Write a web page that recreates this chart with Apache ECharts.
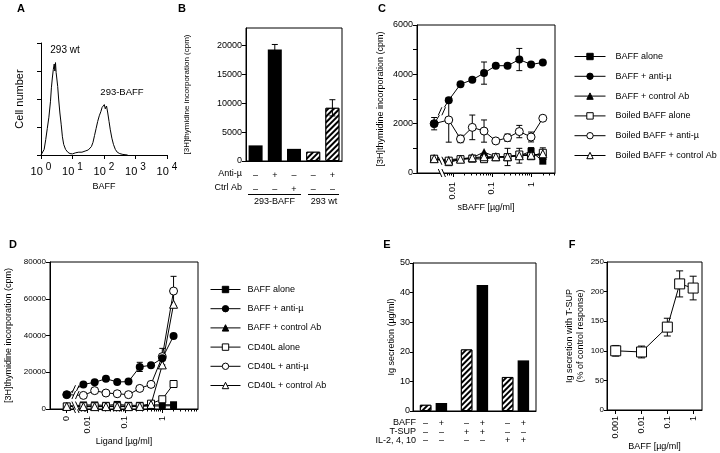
<!DOCTYPE html>
<html><head><meta charset="utf-8">
<script src="https://cdn.jsdelivr.net/npm/echarts@6/dist/echarts.min.js"></script>
<style>html,body{margin:0;padding:0;background:#fff}#c{width:720px;height:453px}</style>
</head><body><div id="c"></div><script>
// ---------------- DATA ----------------
// A: flow histogram (x = log10 BAFF fluorescence, y = cell number in tick units)
const aLogFluor = [0.00,0.05,0.10,0.15,0.20,0.25,0.30,0.33,0.36,0.39,0.42,0.44,0.46,0.48,0.50,0.53,0.56,0.60,0.64,0.68,0.72,0.78,0.85,0.92,1.00,1.10,1.20,1.30,1.40,1.50,1.55,1.60,1.65,1.70,1.75,1.80,1.85,1.90,1.94,1.98,2.01,2.04,2.08,2.12,2.16,2.20,2.25,2.30,2.36,2.42,2.50,2.60,2.75];
const aCount    = [0.00,0.02,0.20,0.55,0.95,1.35,1.90,2.40,2.75,3.05,3.25,3.00,3.30,2.95,2.75,2.45,2.00,1.50,1.10,0.65,0.38,0.20,0.10,0.05,0.04,0.08,0.10,0.10,0.14,0.18,0.25,0.30,0.45,0.70,0.95,1.20,1.40,1.55,1.70,1.75,1.80,1.65,1.75,1.50,1.20,0.90,0.60,0.38,0.20,0.10,0.05,0.02,0.00];

// B
const bConditions = ['293-BAFF alone','293-BAFF + anti-µ','293-BAFF + ctrl Ab','293 wt alone','293 wt + anti-µ'];
const bValues = [2700, 19300, 2100, 1600, 9200];
const bErrors = [0, 850, 0, 0, 1400];
const bAntiMu = ['–','+','–','–','+'];
const bCtrlAb = ['–','–','+','–','–'];
const bCells  = ['293-BAFF','293-BAFF','293-BAFF','293 wt','293 wt'];
const bYTicks = [0,5000,10000,15000,20000];

// C
const cDose = [0, 0.0078, 0.0156, 0.03125, 0.0625, 0.125, 0.25, 0.5, 1, 2];
const cBaffAlone   = [580, 420, 560, 600, 620, 640, 650, 700, 880, 480];
const cBaffAnti    = [2000, 2950, 3600, 3780, 4050, 4350, 4350, 4600, 4400, 4480];
const cBaffCtrl    = [580, 540, 580, 620, 850, 650, 680, 720, 760, 700];
const cBoiledAlone = [580, 500, 560, 580, 560, 640, 640, 750, 680, 820];
const cBoiledAnti  = [2000, 2150, 1380, 1850, 1700, 1300, 1430, 1680, 1460, 2220];
const cBoiledCtrl  = [580, 480, 560, 620, 660, 660, 660, 700, 720, 780];
const cBaffAntiErr   = [250, 0, 0, 0, 450, 0, 0, 450, 0, 0];
const cBoiledAntiErr = [0, 900, 150, 500, 450, 0, 150, 250, 200, 0];
const cBaffAloneErr  = [0, 0, 0, 0, 0, 0, 350, 300, 150, 0];
const cBoiledAloneErr= [0, 0, 0, 0, 0, 0, 0, 0, 0, 200];
const cXLabels = [0.01, 0.1, 1];

// D
const dDose = [0, 0.0078, 0.0156, 0.03125, 0.0625, 0.125, 0.25, 0.5, 1, 2];
const dBaffAlone  = [1500, 2200, 2200, 2000, 2500, 2000, 2000, 2200, 2300, 2300];
const dBaffAnti   = [7800, 13400, 14500, 16500, 14700, 14900, 22900, 23800, 27600, 39700];
const dBaffCtrl   = [1400, 1500, 1500, 1500, 1600, 1500, 1500, 1600, 1700, 1800];
const dCd40Alone  = [1400, 1500, 1500, 1500, 1500, 1500, 1500, 2900, 5300, 13600];
const dCd40Anti   = [7800, 7400, 10000, 8700, 8300, 7800, 11200, 13400, 28500, 64200];
const dCd40Ctrl   = [1400, 1300, 1300, 1300, 1300, 1300, 1400, 2500, 24000, 57000];
const dBaffAntiErr  = [0, 0, 0, 0, 0, 0, 2500, 0, 0, 0];
const dCd40AntiErr  = [0, 0, 0, 0, 0, 0, 0, 0, 4500, 8000];
const dCd40AloneErr = [0, 0, 0, 0, 0, 0, 0, 0, 0, 1800];
const dXLabels = [0, 0.01, 0.1, 1];

// E
const eConditions = ['medium', 'T-SUP', 'IL-2, 4, 10'];
const eBaffNeg = [2.1, 20.8, 11.5];
const eBaffPos = [2.7, 42.6, 17.1];
const eRowBaff = ['–','+','–','+','–','+'];
const eRowTSup = ['–','–','+','+','–','–'];
const eRowIl   = ['–','–','–','–','+','+'];

// F
const fDose = [0.001, 0.01, 0.1, 0.3, 1];
const fIg   = [100, 98, 140, 213, 206];
const fErr  = [9, 10, 15, 22, 20];
const fXLabels = [0.001, 0.01, 0.1, 1];

// ---------------- HELPERS ----------------
const FONT = '"Liberation Sans", Arial, Helvetica, sans-serif';
const C_ZERO = 0.0033, D_ZERO = 0.0028;   // where dose 0 sits on the broken log axes
const C_BREAK = 0.0052, D_BREAK = 0.0048;
const fmtNum = v => String(+(+v).toPrecision(3));
const plain = v => String(v);

function pts(doses, vals, zero) { return doses.map((d, i) => [d === 0 ? zero : d, vals[i]]); }
function errs(doses, vals, e, zero) {
  const out = [];
  doses.forEach((d, i) => { if (e[i] > 0) out.push([d === 0 ? zero : d, vals[i] - e[i], vals[i] + e[i]]); });
  return out;
}
function lineBreakY(vals, zero, x1, brk) {
  const t = (Math.log10(brk) - Math.log10(zero)) / (Math.log10(x1) - Math.log10(zero));
  return vals[0] + (vals[1] - vals[0]) * t;
}
function minorTicks(lo, hi) {
  const v = [];
  for (let e = -3; e <= 1; e++) for (let m = 2; m <= 9; m++) { const x = m * Math.pow(10, e); if (x > lo && x < hi) v.push(x); }
  return v;
}
const axLine = {show: true, onZero: false, lineStyle: {color: '#000', width: 1}};
const tick = (len, extra) => Object.assign({show: true, length: len, lineStyle: {color: '#000', width: 1}}, extra || {});
const lbl = (extra) => Object.assign({color: '#000', fontSize: 9, fontFamily: FONT, margin: 4}, extra || {});
const nameStyle = (fs) => ({color: '#000', fontSize: fs, fontFamily: FONT});
const noSplit = {show: false};

function lineSeries(name, xi, yi, data, symbol, size, filled) {
  return {type: 'line', name, xAxisIndex: xi, yAxisIndex: yi, data, symbol, symbolSize: size,
    showSymbol: true, showAllSymbol: true, z: 3, animation: false, emphasis: {disabled: true},
    lineStyle: {color: '#000', width: 1},
    itemStyle: filled ? {color: '#000', borderColor: '#000', borderWidth: 0}
                      : {color: '#fff', borderColor: '#000', borderWidth: 1}};
}
function errSeries(xi, yi, data, capW, z) {
  return {type: 'custom', xAxisIndex: xi, yAxisIndex: yi, z: z || 2, silent: true, animation: false,
    data, encode: {x: 0, y: [1, 2]},
    renderItem(params, api) {
      const x = api.value(0);
      const lo = api.coord([x, api.value(1)]), hi = api.coord([x, api.value(2)]);
      const c = capW / 2, st = {stroke: '#000', lineWidth: 1};
      return {type: 'group', children: [
        {type: 'line', shape: {x1: hi[0], y1: hi[1], x2: lo[0], y2: lo[1]}, style: st},
        {type: 'line', shape: {x1: hi[0] - c, y1: hi[1], x2: hi[0] + c, y2: hi[1]}, style: st},
        {type: 'line', shape: {x1: lo[0] - c, y1: lo[1], x2: lo[0] + c, y2: lo[1]}, style: st}
      ]};
    }};
}
function breakSeries(xi, yi, data) {
  return {type: 'custom', xAxisIndex: xi, yAxisIndex: yi, z: 6, silent: true, animation: false,
    data, encode: {x: 0, y: 1},
    renderItem(params, api) {
      const p = api.coord([api.value(0), api.value(1)]);
      const dir = api.value(2);           // 1 = "\" on axis, -1 = "/" on lines
      const h = 4, g = 1.8, s = 1.8 * dir;
      const st = {stroke: '#000', lineWidth: 1};
      return {type: 'group', children: [
        {type: 'polygon', shape: {points: [[p[0] - g + s, p[1] + h], [p[0] + g + s, p[1] + h], [p[0] + g - s, p[1] - h], [p[0] - g - s, p[1] - h]]}, style: {fill: '#fff'}},
        {type: 'line', shape: {x1: p[0] - g + s, y1: p[1] + h, x2: p[0] - g - s, y2: p[1] - h}, style: st},
        {type: 'line', shape: {x1: p[0] + g + s, y1: p[1] + h, x2: p[0] + g - s, y2: p[1] - h}, style: st}
      ]};
    }};
}
const hatch = {symbol: 'rect', symbolSize: 1, color: '#000', backgroundColor: '#fff',
  dashArrayX: [1, 0], dashArrayY: [1.1, 2.0], rotation: -Math.PI / 4};
const txt = (text, x, y, font, align) => ({type: 'text', x, y, silent: true,
  style: {text, font, fill: '#000', align: align || 'center', textAlign: align || 'center', verticalAlign: 'middle', textVerticalAlign: 'middle'}});
const hline = (x1, x2, y) => ({type: 'line', silent: true, shape: {x1, y1: y, x2, y2: y}, style: {stroke: '#000', lineWidth: 1}});

// ---------------- OPTION ----------------
const C_MIN = 0.0012, C_MAX = 4.1, D_MIN = 0.001, D_MAX = 9, F_MIN = 0.00046, F_MAX = 2.2;
const boxed = {show: true, borderColor: '#000', borderWidth: 1, backgroundColor: 'transparent'};
const gBase = {containLabel: false, outerBoundsMode: 'none'};
const legendBase = {orient: 'vertical', itemHeight: 8, padding: 0, selectedMode: false,
  lineStyle: {width: 1, color: '#000'}, itemStyle: {borderWidth: 1},
  textStyle: {fontSize: 9, fontFamily: FONT, color: '#000', padding: [0, 0, 0, 5]}};

const option = {
  animation: false,
  backgroundColor: '#fff',
  textStyle: {fontFamily: FONT},
  grid: [
    Object.assign({left: 41, top: 43, width: 126, height: 112}, gBase),
    Object.assign({left: 246, top: 28, width: 96, height: 133}, gBase, boxed),
    Object.assign({left: 417, top: 25, width: 138, height: 148}, gBase, boxed),
    Object.assign({left: 50, top: 262, width: 148, height: 147}, gBase, boxed),
    Object.assign({left: 413, top: 263, width: 123, height: 148}, gBase, boxed),
    Object.assign({left: 607, top: 262, width: 95, height: 148}, gBase, boxed)
  ],
  xAxis: [
    // 0: A
    {gridIndex: 0, type: 'value', min: 0, max: 4, interval: 1, axisLine: axLine, axisTick: tick(4), splitLine: noSplit,
     axisLabel: lbl({margin: 7, formatter: v => '{b|10 }{s|' + v + '}',
       rich: {b: {fontSize: 11, fontFamily: FONT, color: '#000'}, s: {fontSize: 10, fontFamily: FONT, color: '#000', padding: [0, 0, 9, 0]}}}),
     name: 'BAFF', nameLocation: 'middle', nameGap: 27, nameTextStyle: nameStyle(9)},
    // 1: B
    {gridIndex: 1, type: 'category', data: bConditions, axisLine: axLine, axisTick: {show: false}, splitLine: noSplit,
     axisLabel: lbl({margin: 8, lineHeight: 14, interval: 0, formatter: (v, i) => bAntiMu[i] + '\n' + bCtrlAb[i]})},
    // 2: C main
    {gridIndex: 2, type: 'log', logBase: 10, min: C_MIN, max: C_MAX, position: 'bottom', axisLine: axLine, splitLine: noSplit,
     axisTick: tick(4, {customValues: cXLabels}),
     axisLabel: lbl({rotate: 90, margin: 9, customValues: cXLabels, formatter: fmtNum}),
     name: 'sBAFF [µg/ml]', nameLocation: 'middle', nameGap: 27, nameTextStyle: nameStyle(9)},
    // 3: C minor
    {gridIndex: 2, type: 'log', logBase: 10, min: C_MIN, max: C_MAX, position: 'bottom', axisLine: {show: false}, splitLine: noSplit,
     axisTick: tick(2.5, {customValues: minorTicks(0.006, C_MAX)}), axisLabel: {show: false}},
    // 4: D main
    {gridIndex: 3, type: 'log', logBase: 10, min: D_MIN, max: D_MAX, position: 'bottom', axisLine: axLine, splitLine: noSplit,
     axisTick: tick(4, {customValues: dXLabels.map(v => v === 0 ? D_ZERO : v)}),
     axisLabel: lbl({rotate: 90, margin: 7, customValues: dXLabels.map(v => v === 0 ? D_ZERO : v),
       formatter: v => Math.abs(v - D_ZERO) < 1e-6 ? '0' : fmtNum(v)}),
     name: 'Ligand [µg/ml]', nameLocation: 'middle', nameGap: 26, nameTextStyle: nameStyle(9)},
    // 5: D minor
    {gridIndex: 3, type: 'log', logBase: 10, min: D_MIN, max: D_MAX, position: 'bottom', axisLine: {show: false}, splitLine: noSplit,
     axisTick: tick(2.5, {customValues: minorTicks(0.006, D_MAX)}), axisLabel: {show: false}},
    // 6: E
    {gridIndex: 4, type: 'category', data: eConditions, axisLine: axLine, axisTick: {show: false}, splitLine: noSplit,
     axisLabel: lbl({margin: 8, interval: 0,
       formatter: (v, i) => [eRowBaff, eRowTSup, eRowIl].map(r => '{s|' + r[2 * i] + '}{s|' + r[2 * i + 1] + '}').join('\n'),
       rich: {s: {width: 15.8, align: 'center', fontSize: 9, lineHeight: 8.7, fontFamily: FONT, color: '#000'}}})},
    // 7: F
    {gridIndex: 5, type: 'log', logBase: 10, min: F_MIN, max: F_MAX, position: 'bottom', axisLine: axLine, splitLine: noSplit,
     axisTick: tick(4, {customValues: fXLabels}),
     axisLabel: lbl({rotate: 90, margin: 6, customValues: fXLabels, formatter: fmtNum}),
     name: 'BAFF [µg/ml]', nameLocation: 'middle', nameGap: 18, nameTextStyle: nameStyle(9)}
  ],
  yAxis: [
    {gridIndex: 0, type: 'value', min: 0, max: 4, interval: 1, axisLine: axLine, axisTick: tick(4), axisLabel: {show: false}, splitLine: noSplit,
     name: 'Cell number', nameLocation: 'middle', nameGap: 16, nameRotate: 90, nameTextStyle: nameStyle(11)},
    {gridIndex: 1, type: 'value', min: 0, max: 23000, axisLine: axLine, splitLine: noSplit,
     axisTick: tick(4, {customValues: bYTicks}), axisLabel: lbl({customValues: bYTicks, formatter: plain}),
     name: '[3H]thymidine incorporation (cpm)', nameLocation: 'middle', nameGap: 55, nameRotate: 90, nameTextStyle: nameStyle(8)},
    {gridIndex: 2, type: 'value', min: 0, max: 6000, interval: 1000, axisLine: axLine, axisTick: tick(4), splitLine: noSplit,
     axisLabel: lbl({formatter: v => v % 2000 === 0 ? String(v) : ''}),
     name: '[3H]thymidine incorporation (cpm)', nameLocation: 'middle', nameGap: 32, nameRotate: 90, nameTextStyle: nameStyle(9)},
    {gridIndex: 3, type: 'value', min: 0, max: 80000, interval: 20000, axisLine: axLine, axisTick: tick(4), splitLine: noSplit,
     axisLabel: lbl({fontSize: 8, formatter: plain}),
     name: '[3H]thymidine incorporation (cpm)', nameLocation: 'middle', nameGap: 37, nameRotate: 90, nameTextStyle: nameStyle(9)},
    {gridIndex: 4, type: 'value', min: 0, max: 50, interval: 10, axisLine: axLine, axisTick: tick(3), splitLine: noSplit,
     axisLabel: lbl({margin: 3, formatter: plain}),
     name: 'Ig secretion (µg/ml)', nameLocation: 'middle', nameGap: 14, nameRotate: 90, nameTextStyle: nameStyle(9)},
    {gridIndex: 5, type: 'value', min: 0, max: 250, interval: 50, axisLine: axLine, axisTick: tick(3), splitLine: noSplit,
     axisLabel: lbl({margin: 3, fontSize: 8, formatter: plain}),
     name: 'Ig secretion with T-SUP\n(% of control response)', nameLocation: 'middle', nameGap: 20, nameRotate: 90,
     nameTextStyle: Object.assign(nameStyle(9), {lineHeight: 11.5})}
  ],
  legend: [
    Object.assign({}, legendBase, {
      data: ['BAFF alone', 'BAFF + anti-µ', 'BAFF + control Ab', 'Boiled BAFF alone', 'Boiled BAFF + anti-µ', 'Boiled BAFF + control Ab'],
      left: 574, top: 52, itemWidth: 31, itemGap: 10.8}),
    Object.assign({}, legendBase, {
      data: ['BAFF alone', 'BAFF + anti-µ', 'BAFF + control Ab', 'CD40L alone', 'CD40L + anti-µ', 'CD40L + control Ab'],
      left: 210, top: 285, itemWidth: 30, itemGap: 10.2,
      textStyle: {fontSize: 9, fontFamily: FONT, color: '#000', padding: [0, 0, 0, 2]}})
  ],
  series: [],
  graphic: []
};

const S = option.series;
// A
S.push({type: 'line', xAxisIndex: 0, yAxisIndex: 0, data: aLogFluor.map((e, i) => [e, aCount[i]]), symbol: 'none',
  lineStyle: {color: '#000', width: 1}, animation: false, silent: true});
// B
S.push({type: 'bar', name: '293-BAFF', xAxisIndex: 1, yAxisIndex: 1, barWidth: 14, barGap: '-100%',
  data: bValues.map((v, i) => bCells[i] === '293-BAFF' ? v : '-'), itemStyle: {color: '#000'}, silent: true});
S.push({type: 'bar', name: '293 wt', xAxisIndex: 1, yAxisIndex: 1, barWidth: 14, barGap: '-100%',
  data: bValues.map((v, i) => bCells[i] === '293 wt' ? v : '-'),
  itemStyle: {color: '#fff', borderColor: '#000', borderWidth: 1, decal: hatch}, silent: true});
S.push(errSeries(1, 1, bValues.map((v, i) => bErrors[i] > 0 ? [i, v - bErrors[i], v + bErrors[i]] : null).filter(Boolean), 6, 5));
// C
S.push(errSeries(2, 2, [].concat(
  errs(cDose, cBaffAnti, cBaffAntiErr, C_ZERO), errs(cDose, cBoiledAnti, cBoiledAntiErr, C_ZERO),
  errs(cDose, cBaffAlone, cBaffAloneErr, C_ZERO), errs(cDose, cBoiledAlone, cBoiledAloneErr, C_ZERO)), 6, 1));
S.push(lineSeries('BAFF alone', 2, 2, pts(cDose, cBaffAlone, C_ZERO), 'rect', 7, true));
S.push(lineSeries('BAFF + control Ab', 2, 2, pts(cDose, cBaffCtrl, C_ZERO), 'triangle', 8, true));
S.push(lineSeries('Boiled BAFF alone', 2, 2, pts(cDose, cBoiledAlone, C_ZERO), 'rect', 7, false));
S.push(lineSeries('Boiled BAFF + control Ab', 2, 2, pts(cDose, cBoiledCtrl, C_ZERO), 'triangle', 8, false));
S.push(lineSeries('Boiled BAFF + anti-µ', 2, 2, pts(cDose, cBoiledAnti, C_ZERO), 'circle', 8, false));
S.push(lineSeries('BAFF + anti-µ', 2, 2, pts(cDose, cBaffAnti, C_ZERO), 'circle', 8, true));
S.push(breakSeries(2, 2, [[C_BREAK, 0, 1],
  [C_BREAK, lineBreakY(cBaffAnti, C_ZERO, cDose[1], C_BREAK), -1],
  [C_BREAK, lineBreakY(cBaffAlone, C_ZERO, cDose[1], C_BREAK), 1]]));
// D
S.push(errSeries(4, 3, [].concat(
  errs(dDose, dBaffAnti, dBaffAntiErr, D_ZERO), errs(dDose, dCd40Anti, dCd40AntiErr, D_ZERO),
  errs(dDose, dCd40Alone, dCd40AloneErr, D_ZERO)), 6, 1));
S.push(lineSeries('BAFF alone', 4, 3, pts(dDose, dBaffAlone, D_ZERO), 'rect', 7, true));
S.push(lineSeries('BAFF + control Ab', 4, 3, pts(dDose, dBaffCtrl, D_ZERO), 'triangle', 8, true));
S.push(lineSeries('CD40L alone', 4, 3, pts(dDose, dCd40Alone, D_ZERO), 'rect', 7, false));
S.push(lineSeries('CD40L + control Ab', 4, 3, pts(dDose, dCd40Ctrl, D_ZERO), 'triangle', 8, false));
S.push(lineSeries('CD40L + anti-µ', 4, 3, pts(dDose, dCd40Anti, D_ZERO), 'circle', 8, false));
S.push(lineSeries('BAFF + anti-µ', 4, 3, pts(dDose, dBaffAnti, D_ZERO), 'circle', 8, true));
S.push(breakSeries(4, 3, [[D_BREAK, 0, 1],
  [D_BREAK, lineBreakY(dBaffAnti, D_ZERO, dDose[1], D_BREAK), -1],
  [D_BREAK, lineBreakY(dCd40Anti, D_ZERO, dDose[1], D_BREAK), -1],
  [D_BREAK, lineBreakY(dBaffAlone, D_ZERO, dDose[1], D_BREAK), 1]]));
// E
S.push({type: 'bar', name: 'BAFF –', xAxisIndex: 6, yAxisIndex: 4, barWidth: 11.5, barGap: '37%', data: eBaffNeg,
  itemStyle: {color: '#fff', borderColor: '#000', borderWidth: 1, decal: hatch}, silent: true});
S.push({type: 'bar', name: 'BAFF +', xAxisIndex: 6, yAxisIndex: 4, barWidth: 11.5, barGap: '37%', data: eBaffPos,
  itemStyle: {color: '#000'}, silent: true});
// F
S.push(errSeries(7, 5, fDose.map((d, i) => [d, fIg[i] - fErr[i], fIg[i] + fErr[i]]), 7, 1));
S.push(lineSeries('F', 7, 5, fDose.map((d, i) => [d, fIg[i]]), 'rect', 10, false));

// annotations
const G = option.graphic;
const BOLD = 'bold 11px ' + FONT, T9 = '9px ' + FONT;
G.push(txt('A', 21, 9, BOLD), txt('B', 182, 9, BOLD), txt('C', 382, 9, BOLD),
       txt('D', 13, 245, BOLD), txt('E', 387, 245, BOLD), txt('F', 572, 245, BOLD));
G.push(txt('293 wt', 65, 50, '10px ' + FONT), txt('293-BAFF', 122, 92, '9.5px ' + FONT));
G.push(txt('Anti-µ', 242, 174, T9, 'right'), txt('Ctrl Ab', 242, 188, T9, 'right'));
G.push(hline(248, 301, 194.5), hline(308, 339, 194.5));
G.push(txt('293-BAFF', 274.5, 202, T9), txt('293 wt', 324, 202, T9));
G.push(txt('BAFF', 416, 422.7, T9, 'right'), txt('T-SUP', 416, 431.4, T9, 'right'), txt('IL-2, 4, 10', 416, 440.1, T9, 'right'));

const chart = echarts.init(document.getElementById('c'), null, {renderer: 'canvas'});
chart.setOption(option);
</script></body></html>
